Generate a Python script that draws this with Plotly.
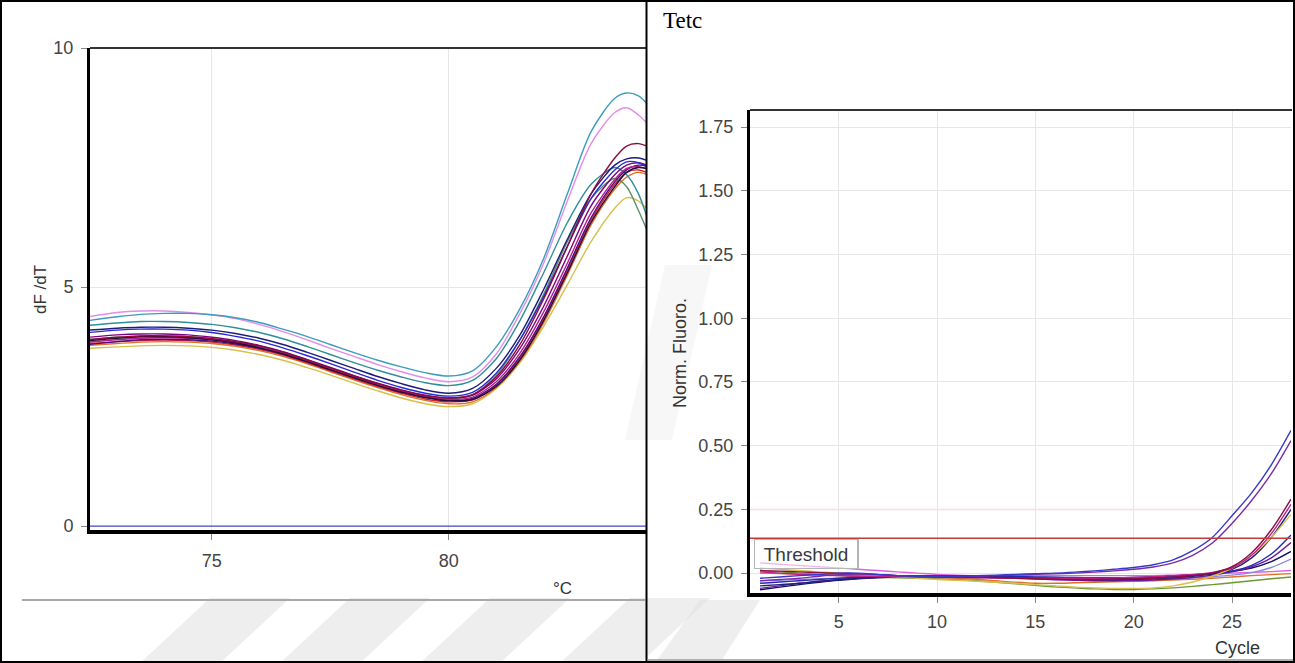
import plotly.graph_objects as go

W, H = 1295, 663

# ---------------- Melt curve data (left panel) ----------------
melt_temp = [72.4, 73.0, 73.5, 74.0, 74.5, 75.0, 75.5, 76.0, 76.5, 77.0, 77.5, 78.0, 78.5,
             79.0, 79.5, 80.0, 80.5, 81.0, 81.5, 82.0, 82.5, 83.0, 83.5, 83.75, 84.0, 84.3]

melt_teal_top = [4.30, 4.38, 4.43, 4.45, 4.45, 4.42, 4.36, 4.26, 4.12, 3.97, 3.80, 3.63, 3.47,
                 3.33, 3.21, 3.14, 3.25, 3.75, 4.55, 5.60, 6.95, 8.25, 8.95, 9.06, 9.00, 8.70]
melt_pink = [4.38, 4.47, 4.50, 4.50, 4.47, 4.42, 4.34, 4.22, 4.07, 3.90, 3.72, 3.55, 3.38,
             3.23, 3.10, 3.02, 3.12, 3.60, 4.45, 5.50, 6.80, 8.00, 8.65, 8.75, 8.60, 8.30]
melt_teal2 = [4.20, 4.25, 4.28, 4.28, 4.26, 4.22, 4.15, 4.05, 3.92, 3.76, 3.59, 3.42, 3.26,
              3.12, 3.00, 2.94, 3.05, 3.50, 4.30, 5.30, 6.35, 7.15, 7.50, 7.35, 6.95, 6.10]
melt_navy = [4.10, 4.14, 4.16, 4.16, 4.14, 4.10, 4.03, 3.93, 3.80, 3.64, 3.47, 3.30, 3.13,
             2.98, 2.85, 2.78, 2.88, 3.30, 4.00, 4.95, 6.00, 6.95, 7.55, 7.68, 7.70, 7.60]
melt_blue = [4.05, 4.10, 4.12, 4.12, 4.10, 4.05, 3.97, 3.87, 3.73, 3.57, 3.40, 3.22, 3.05,
             2.90, 2.78, 2.72, 2.80, 3.20, 3.90, 4.80, 5.85, 6.85, 7.45, 7.62, 7.60, 7.45]
melt_maroon = [3.90, 3.95, 3.98, 3.98, 3.96, 3.92, 3.86, 3.77, 3.64, 3.48, 3.31, 3.14, 2.98,
               2.84, 2.73, 2.68, 2.75, 3.12, 3.80, 4.75, 5.85, 6.95, 7.70, 7.95, 8.00, 7.90]
melt_purple = [3.95, 4.00, 4.02, 4.02, 4.00, 3.95, 3.88, 3.78, 3.65, 3.49, 3.32, 3.15, 2.99,
               2.85, 2.74, 2.68, 2.74, 3.08, 3.72, 4.60, 5.65, 6.70, 7.35, 7.55, 7.60, 7.50]
melt_magenta = [3.85, 3.90, 3.93, 3.94, 3.93, 3.90, 3.84, 3.75, 3.62, 3.46, 3.29, 3.12, 2.96,
                2.82, 2.71, 2.65, 2.70, 3.02, 3.62, 4.48, 5.50, 6.55, 7.25, 7.48, 7.52, 7.42]
melt_indigo = [3.80, 3.86, 3.90, 3.91, 3.90, 3.87, 3.81, 3.72, 3.60, 3.45, 3.28, 3.11, 2.95,
               2.81, 2.70, 2.63, 2.67, 2.97, 3.55, 4.38, 5.40, 6.45, 7.20, 7.45, 7.55, 7.50]
melt_dark = [3.88, 3.93, 3.96, 3.96, 3.94, 3.90, 3.83, 3.73, 3.60, 3.44, 3.27, 3.10, 2.94,
             2.80, 2.69, 2.62, 2.65, 2.92, 3.48, 4.30, 5.30, 6.35, 7.10, 7.40, 7.50, 7.45]
melt_orange = [3.78, 3.82, 3.85, 3.86, 3.85, 3.82, 3.76, 3.67, 3.55, 3.40, 3.23, 3.06, 2.90,
               2.75, 2.63, 2.56, 2.60, 2.90, 3.45, 4.25, 5.25, 6.30, 7.05, 7.30, 7.40, 7.30]
melt_red = [3.82, 3.86, 3.88, 3.89, 3.88, 3.85, 3.79, 3.70, 3.58, 3.42, 3.25, 3.08, 2.92,
            2.78, 2.66, 2.60, 2.64, 2.95, 3.52, 4.35, 5.35, 6.40, 7.15, 7.40, 7.45, 7.35]
melt_yellow = [3.72, 3.75, 3.77, 3.78, 3.77, 3.74, 3.68, 3.59, 3.47, 3.32, 3.16, 2.99, 2.83,
               2.68, 2.56, 2.50, 2.56, 2.88, 3.42, 4.18, 5.05, 5.95, 6.65, 6.87, 6.80, 6.50]
melt_olive = [3.90, 3.95, 3.98, 3.98, 3.96, 3.92, 3.85, 3.75, 3.62, 3.46, 3.29, 3.12, 2.96,
              2.82, 2.71, 2.66, 2.74, 3.15, 3.90, 4.85, 5.95, 6.85, 7.27, 7.10, 6.60, 5.90]
melt_ntc = [0.00, 0.00, 0.00, 0.00, 0.00, 0.00, 0.00, 0.00, 0.00, 0.00, 0.00, 0.00, 0.00,
            0.00, 0.00, 0.00, 0.00, 0.00, 0.00, 0.00, 0.00, 0.00, 0.00, 0.00, 0.00, 0.00]

melt_series = [
    (melt_yellow, "#d8bf4a"), (melt_orange, "#e0702a"), (melt_red, "#d02828"),
    (melt_olive, "#5f8f66"), (melt_teal2, "#2f8f98"), (melt_indigo, "#4b0a8a"),
    (melt_magenta, "#b0208a"), (melt_purple, "#800080"), (melt_dark, "#240a3a"),
    (melt_blue, "#2a2ad0"), (melt_navy, "#1c1c7a"), (melt_maroon, "#8b0a3a"),
    (melt_pink, "#e48ce8"), (melt_teal_top, "#3c9cbc"), (melt_ntc, "#4a4ac8"),
]

# ---------------- Amplification data (right panel) ----------------
cycles = list(range(1, 29))

amp_e1 = [-0.020, -0.015, -0.010, -0.005, 0.000, 0.000, -0.005, -0.010, -0.012, -0.012, -0.012, -0.010,
          -0.008, -0.005, -0.002, 0.000, 0.004, 0.009, 0.015, 0.022, 0.033, 0.052, 0.088, 0.140,
          0.225, 0.315, 0.425, 0.560]
amp_e2 = [-0.030, -0.025, -0.020, -0.012, -0.006, -0.004, -0.006, -0.010, -0.012, -0.013, -0.013, -0.012,
          -0.010, -0.008, -0.005, -0.003, 0.000, 0.004, 0.009, 0.015, 0.024, 0.040, 0.070, 0.118,
          0.195, 0.285, 0.390, 0.520]
amp_b1 = [0.010, 0.008, 0.005, 0.002, 0.000, -0.003, -0.006, -0.010, -0.013, -0.015, -0.016, -0.017,
          -0.018, -0.020, -0.022, -0.024, -0.025, -0.025, -0.024, -0.022, -0.020, -0.016, -0.010, 0.000,
          0.025, 0.080, 0.170, 0.290]
amp_b2 = [0.005, 0.000, -0.005, -0.008, -0.010, -0.012, -0.013, -0.014, -0.015, -0.016, -0.017, -0.018,
          -0.019, -0.020, -0.020, -0.020, -0.020, -0.020, -0.019, -0.017, -0.014, -0.010, -0.005, 0.003,
          0.020, 0.070, 0.155, 0.270]
amp_b3 = [0.020, 0.015, 0.010, 0.005, 0.000, -0.005, -0.010, -0.015, -0.020, -0.025, -0.028, -0.032,
          -0.036, -0.040, -0.045, -0.050, -0.055, -0.058, -0.060, -0.060, -0.058, -0.050, -0.035, -0.012,
          0.020, 0.070, 0.140, 0.230]
amp_b4 = [-0.050, -0.045, -0.040, -0.033, -0.026, -0.020, -0.016, -0.013, -0.012, -0.012, -0.013, -0.014,
          -0.016, -0.018, -0.020, -0.022, -0.024, -0.025, -0.025, -0.024, -0.022, -0.018, -0.012, -0.004,
          0.015, 0.060, 0.140, 0.250]
amp_c1 = [-0.040, -0.035, -0.030, -0.025, -0.020, -0.016, -0.013, -0.011, -0.010, -0.010, -0.011, -0.012,
          -0.013, -0.014, -0.015, -0.016, -0.017, -0.018, -0.018, -0.017, -0.015, -0.012, -0.008, -0.002,
          0.008, 0.030, 0.075, 0.150]
amp_c2 = [-0.060, -0.050, -0.040, -0.032, -0.025, -0.020, -0.016, -0.013, -0.012, -0.012, -0.013, -0.015,
          -0.017, -0.020, -0.023, -0.026, -0.028, -0.030, -0.030, -0.029, -0.027, -0.023, -0.017, -0.008,
          0.005, 0.025, 0.060, 0.120]
amp_c3 = [-0.065, -0.055, -0.045, -0.036, -0.028, -0.022, -0.018, -0.015, -0.013, -0.012, -0.012, -0.013,
          -0.015, -0.017, -0.019, -0.021, -0.022, -0.022, -0.021, -0.019, -0.016, -0.012, -0.007, -0.001,
          0.008, 0.020, 0.045, 0.085]
amp_c4 = [-0.030, -0.028, -0.025, -0.022, -0.020, -0.018, -0.016, -0.014, -0.013, -0.012, -0.012, -0.013,
          -0.014, -0.015, -0.016, -0.017, -0.018, -0.019, -0.020, -0.021, -0.021, -0.020, -0.018, -0.014,
          -0.008, 0.002, 0.022, 0.055]
amp_d1 = [0.040, 0.035, 0.030, 0.025, 0.020, 0.015, 0.010, 0.005, 0.000, -0.005, -0.008, -0.010,
          -0.010, -0.010, -0.010, -0.010, -0.010, -0.010, -0.010, -0.010, -0.010, -0.008, -0.006, -0.003,
          0.000, 0.003, 0.006, 0.010]
amp_d2 = [0.000, -0.002, -0.004, -0.006, -0.008, -0.010, -0.012, -0.014, -0.016, -0.018, -0.020, -0.024,
          -0.030, -0.036, -0.040, -0.040, -0.038, -0.036, -0.034, -0.032, -0.030, -0.027, -0.024, -0.020,
          -0.015, -0.010, -0.006, -0.002]
amp_d3 = [0.010, 0.005, 0.000, -0.005, -0.010, -0.013, -0.016, -0.018, -0.020, -0.022, -0.025, -0.030,
          -0.036, -0.042, -0.048, -0.054, -0.058, -0.062, -0.064, -0.064, -0.062, -0.058, -0.052, -0.045,
          -0.038, -0.030, -0.022, -0.015]

amp_series = [
    (amp_d3, "#6a9a30"), (amp_d2, "#e07028"), (amp_d1, "#e060e0"),
    (amp_c4, "#8a8ae0"), (amp_c3, "#101060"), (amp_c2, "#6a1a9a"), (amp_c1, "#2828b0"),
    (amp_b4, "#22227a"), (amp_b3, "#d6c050"), (amp_b2, "#c0208a"), (amp_b1, "#8a1040"),
    (amp_e2, "#7a2aa8"), (amp_e1, "#3838c8"),
]

threshold_value = 0.137

melt_xticks = [75, 80]
melt_yticks = [0, 5, 10]
amp_xticks = [5, 10, 15, 20, 25]
amp_yticks = [0.0, 0.25, 0.5, 0.75, 1.0, 1.25, 1.5, 1.75]
amp_yticklabels = ["0.00", "0.25", "0.50", "0.75", "1.00", "1.25", "1.50", "1.75"]


def px(x):
    return x / W


def py(y):
    return 1 - y / H


fig = go.Figure()

for vals, col in melt_series:
    fig.add_trace(go.Scatter(x=melt_temp, y=vals, mode="lines", xaxis="x", yaxis="y",
                             line=dict(color=col, width=1.4, shape="spline", smoothing=0.8),
                             hoverinfo="skip"))

for vals, col in amp_series:
    fig.add_trace(go.Scatter(x=cycles, y=vals, mode="lines", xaxis="x2", yaxis="y2",
                             line=dict(color=col, width=1.4, shape="spline", smoothing=0.8),
                             hoverinfo="skip"))

tickfont = dict(family="Liberation Sans, Arial, sans-serif", size=18, color="#444444")

common_axis = dict(showgrid=True, gridcolor="#e6e6e6", gridwidth=1, zeroline=False,
                   showline=True, linecolor="black", ticks="outside", ticklen=6,
                   tickcolor="#888888", tickfont=tickfont, fixedrange=True, automargin=False)

fig.update_layout(
    width=W, height=H, margin=dict(l=0, r=0, t=0, b=0, pad=0, autoexpand=False),
    paper_bgcolor="white", plot_bgcolor="rgba(0,0,0,0)", showlegend=False,
    xaxis=dict(domain=[px(90), px(647)], range=[72.43, 84.18], tickvals=melt_xticks,
               anchor="y", linewidth=4, ticklabelstandoff=5, **common_axis),
    yaxis=dict(domain=[py(530), py(48)], range=[-0.08, 10.0], tickvals=melt_yticks,
               anchor="x", linewidth=3, ticklabelstandoff=4, **common_axis),
    xaxis2=dict(domain=[px(750), px(1291)], range=[0.49, 28.0], tickvals=amp_xticks,
                anchor="y2", linewidth=4, ticklabelstandoff=3, **common_axis),
    yaxis2=dict(domain=[py(593), py(110)], range=[-0.078, 1.817], tickvals=amp_yticks,
                ticktext=amp_yticklabels, anchor="x2", linewidth=3, ticklabelstandoff=4,
                **common_axis),
)

shapes = []

# faint diagonal watermark stripes
stripe_color = "rgba(222,222,222,0.5)"
for xb in [140, 280, 420, 560]:
    shapes.append(dict(type="path", xref="paper", yref="paper", layer="below",
                       path=f"M {px(xb)},{py(663)} L {px(xb+80)},{py(663)} L {px(xb+150)},{py(598)} L {px(xb+70)},{py(598)} Z",
                       fillcolor=stripe_color, line=dict(width=0)))
shapes.append(dict(type="path", xref="paper", yref="paper", layer="below",
                   path=f"M {px(625)},{py(440)} L {px(672)},{py(440)} L {px(712)},{py(265)} L {px(665)},{py(265)} Z",
                   fillcolor="rgba(232,232,232,0.35)", line=dict(width=0)))
shapes.append(dict(type="path", xref="paper", yref="paper", layer="below",
                   path=f"M {px(655)},{py(663)} L {px(720)},{py(663)} L {px(760)},{py(600)} L {px(700)},{py(600)} Z",
                   fillcolor=stripe_color, line=dict(width=0)))

# pinkish 0.25 gridline
shapes.append(dict(type="line", xref="x2 domain", yref="y2", x0=0, x1=1, y0=0.25, y1=0.25,
                   line=dict(color="#f2d4da", width=1.5), layer="below"))
# threshold line
shapes.append(dict(type="line", xref="x2 domain", yref="y2", x0=0, x1=1,
                   y0=threshold_value, y1=threshold_value,
                   line=dict(color="#c23a3a", width=1.6)))
# threshold label box edge
shapes.append(dict(type="line", xref="paper", yref="paper", x0=px(858), x1=px(858),
                   y0=py(538), y1=py(568), line=dict(color="#6a6a6a", width=1)))

# plot top borders
shapes.append(dict(type="line", xref="paper", yref="paper", x0=px(90), x1=px(646),
                   y0=py(48), y1=py(48), line=dict(color="#333333", width=2)))
shapes.append(dict(type="line", xref="paper", yref="paper", x0=px(750), x1=px(1292),
                   y0=py(110), y1=py(110), line=dict(color="#333333", width=2)))

# table / page borders
shapes.append(dict(type="line", xref="paper", yref="paper", x0=px(22), x1=px(645),
                   y0=py(600), y1=py(600), line=dict(color="#a8a8a8", width=2)))
shapes.append(dict(type="line", xref="paper", yref="paper", x0=px(648), x1=px(1293),
                   y0=py(660), y1=py(660), line=dict(color="#b0b0b0", width=2)))
shapes.append(dict(type="line", xref="paper", yref="paper", x0=px(646.5), x1=px(646.5),
                   y0=0, y1=1, line=dict(color="black", width=2)))
shapes.append(dict(type="rect", xref="paper", yref="paper", x0=px(1), x1=px(1294),
                   y0=py(662), y1=py(1), line=dict(color="black", width=2)))

fig.update_layout(shapes=shapes)

labfont = dict(family="Liberation Sans, Arial, sans-serif", size=17, color="#333333")
annotations = [
    dict(text="dF /dT", x=px(40), y=py(290), textangle=-90, font=labfont),
    dict(text="°C", x=px(562), y=py(588), font=labfont),
    dict(text="Norm. Fluoro.", x=px(680), y=py(353), textangle=-90,
         font=dict(family="Liberation Sans, Arial, sans-serif", size=18, color="#333333")),
    dict(text="Cycle", x=px(1237), y=py(648),
         font=dict(family="Liberation Sans, Arial, sans-serif", size=18, color="#333333")),
    dict(text="Tetc", x=px(661), y=py(20), xanchor="left",
         font=dict(family="Liberation Serif, Times New Roman, serif", size=23, color="black")),
    dict(text="Threshold", x=px(806), y=py(554),
         font=dict(family="Liberation Sans, Arial, sans-serif", size=19, color="#3a3a3a"),
         bgcolor="rgba(255,255,255,0.55)", bordercolor="#b5b5b5", borderwidth=1,
         width=100, height=26),
]
for a in annotations:
    a.setdefault("xanchor", "center")
    a.update(xref="paper", yref="paper", yanchor="middle", showarrow=False)
fig.update_layout(annotations=annotations)

fig.write_html("out.html", post_script="document.body.style.margin='0';",
               config={"displayModeBar": False})
